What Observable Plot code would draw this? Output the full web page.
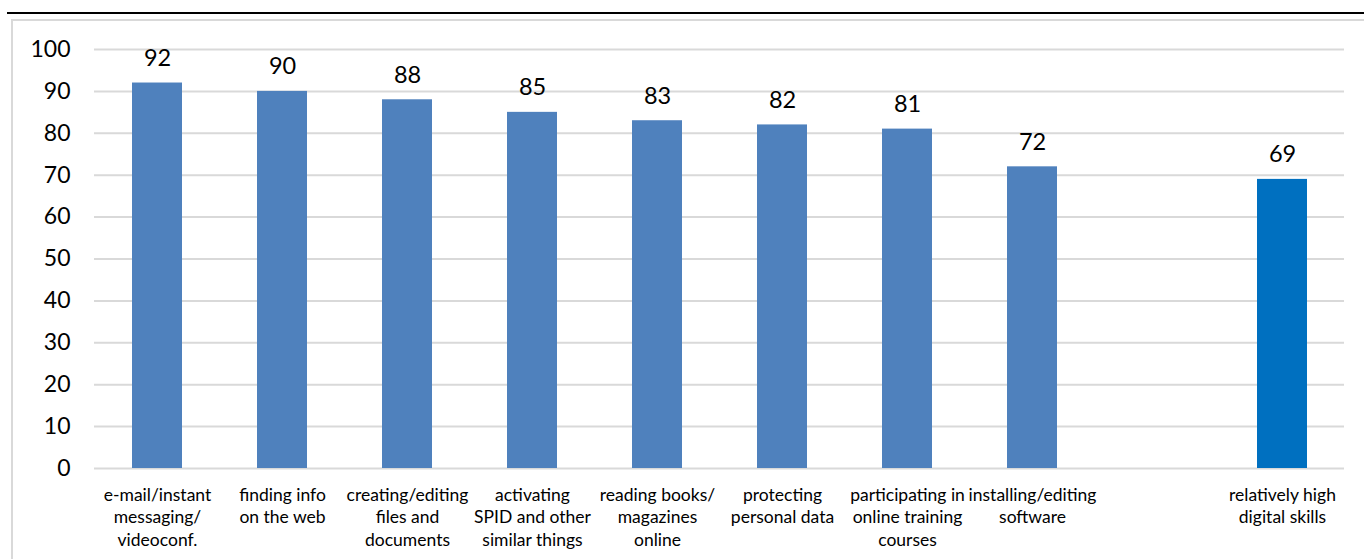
<!DOCTYPE html>
<html>
<head>
<meta charset="utf-8">
<script src="https://cdn.jsdelivr.net/npm/d3@7"></script>
<script src="https://cdn.jsdelivr.net/npm/@observablehq/plot@0.6"></script>
<style>
  html, body { margin: 0; padding: 0; background: #fff; }
  body { position: relative; width: 1364px; height: 559px; overflow: hidden; font-family: Lato, "Open Sans", sans-serif; }
  .rule { position: absolute; left: 7px; right: 0; top: 12px; height: 2px; background: #000; }
  .frame { position: absolute; left: 11px; top: 19px; width: 1400px; height: 600px; border: 2px solid #d9d9d9; box-sizing: border-box; }
  #chart { position: absolute; left: 0; top: 0; }
</style>
</head>
<body>
<div class="rule"></div>
<div class="frame"></div>
<div id="chart"></div>
<script>
// Share of people doing each digital activity (%)
const categories = [
  "e-mail/instant\nmessaging/\nvideoconf.",
  "finding info\non the web",
  "creating/editing\nfiles and\ndocuments",
  "activating\nSPID and other\nsimilar things",
  "reading books/\nmagazines\nonline",
  "protecting\npersonal data",
  "participating in\nonline training\ncourses",
  "installing/editing\nsoftware",
  "",
  "relatively high\ndigital skills"
];
const values = [92, 90, 88, 85, 83, 82, 81, 72, null, 69];
const groups = ["activity", "activity", "activity", "activity", "activity", "activity", "activity", "activity", null, "summary"];
const yTicks = [0, 10, 20, 30, 40, 50, 60, 70, 80, 90, 100];

const data = categories
  .map((c, i) => ({category: c, value: values[i], group: groups[i]}))
  .filter(d => d.value != null);

const chart = Plot.plot({
  width: 1364,
  height: 559,
  marginLeft: 94,
  marginRight: 20,
  marginTop: 49,
  marginBottom: 91,
  style: {fontFamily: "Lato, 'Open Sans', sans-serif", background: "transparent", color: "#000"},
  x: {domain: categories, paddingInner: 0.6, paddingOuter: 0.3, axis: null},
  y: {domain: [0, 100], axis: null},
  color: {domain: ["activity", "summary"], range: ["#4f81bd", "#0070c0"]},
  marks: [
    Plot.gridY(yTicks, {stroke: "#d9d9d9", strokeOpacity: 1, strokeWidth: 2}),
    Plot.axisY(yTicks, {tickSize: 0, tickPadding: 24, fontSize: 23, fill: "#000", label: null}),
    Plot.barY(data, {x: "category", y: "value", fill: "group"}),
    Plot.text(data, {x: "category", y: "value", text: d => String(d.value), lineAnchor: "bottom", dy: -17, fontSize: 23.5, fill: "#000"}),
    Plot.text(categories.filter(c => c !== ""), {x: d => d, y: 0, text: d => d, lineAnchor: "top", dy: 16, fontSize: 17.5, lineHeight: 1.3, fill: "#000"})
  ]
});
document.getElementById("chart").appendChild(chart);
</script>
</body>
</html>
